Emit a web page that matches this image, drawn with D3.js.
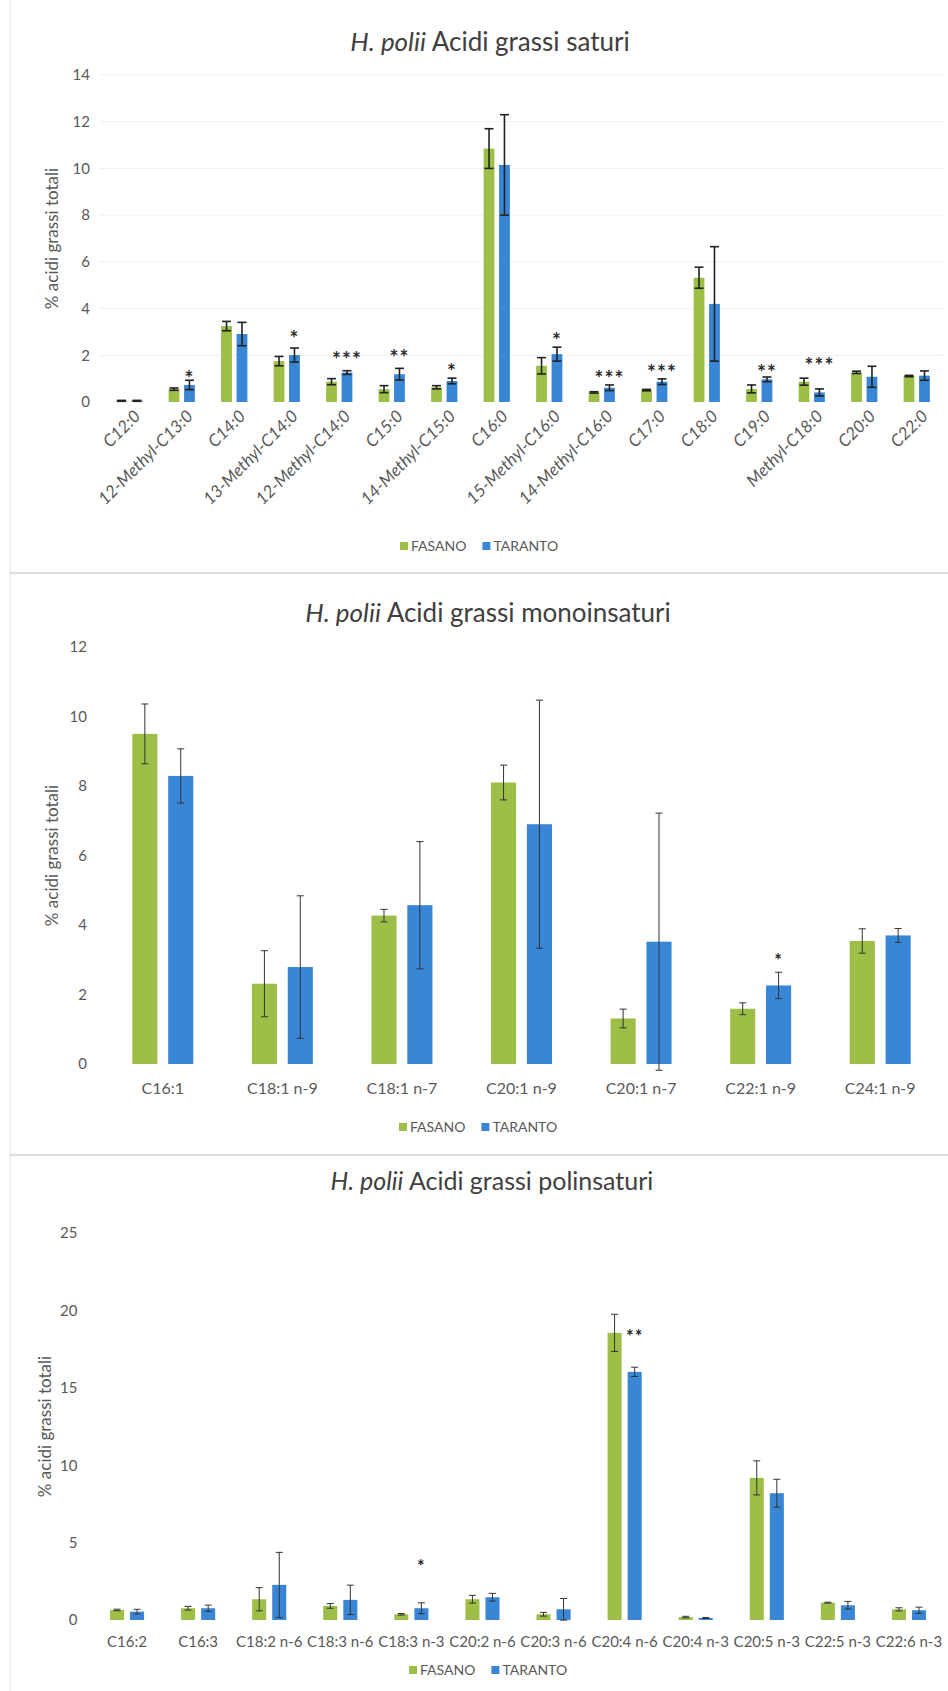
<!DOCTYPE html>
<html><head><meta charset="utf-8">
<script src="https://cdn.jsdelivr.net/npm/d3@7"></script>
<style>body{margin:0;background:#fff}svg{display:block}</style>
</head><body><svg id="c" width="948" height="1691"></svg>
<script>
// ---------- DATA ----------
const seriesNames = ["FASANO", "TARANTO"];

const satCategories = ["C12:0","12-Methyl-C13:0","C14:0","13-Methyl-C14:0","12-Methyl-C14:0","C15:0","14-Methyl-C15:0","C16:0","15-Methyl-C16:0","14-Methyl-C16:0","C17:0","C18:0","C19:0","Methyl-C18:0","C20:0","C22:0"];
const satFasano     = [0.05, 0.55, 3.25, 1.75, 0.87, 0.55, 0.63, 10.85, 1.55, 0.41, 0.51, 5.32, 0.56, 0.87, 1.27, 1.11];
const satFasanoErr  = [0.02, 0.05, 0.20, 0.20, 0.13, 0.15, 0.07, 0.85, 0.35, 0.03, 0.03, 0.45, 0.17, 0.15, 0.05, 0.03];
const satTaranto    = [0.05, 0.73, 2.91, 2.01, 1.26, 1.19, 0.90, 10.15, 2.05, 0.61, 0.87, 4.20, 0.97, 0.41, 1.08, 1.13];
const satTarantoErr = [0.02, 0.20, 0.50, 0.30, 0.08, 0.25, 0.12, 2.15, 0.30, 0.12, 0.12, 2.45, 0.10, 0.15, 0.45, 0.20];
const satTicks = [0, 2, 4, 6, 8, 10, 12, 14];
const satSig = [
  {cat:"12-Methyl-C13:0", label:"*",   at:1.24},
  {cat:"13-Methyl-C14:0", label:"*",   at:2.95},
  {cat:"12-Methyl-C14:0", label:"***", at:2.05},
  {cat:"C15:0",           label:"**",  at:2.11},
  {cat:"14-Methyl-C15:0", label:"*",   at:1.51},
  {cat:"15-Methyl-C16:0", label:"*",   at:2.87},
  {cat:"14-Methyl-C16:0", label:"***", at:1.24},
  {cat:"C17:0",           label:"***", at:1.46},
  {cat:"C19:0",           label:"**",  at:1.46},
  {cat:"Methyl-C18:0",    label:"***", at:1.76}
];

const monoCategories = ["C16:1","C18:1 n-9","C18:1 n-7","C20:1 n-9","C20:1 n-7","C22:1 n-9","C24:1 n-9"];
const monoFasano     = [9.50, 2.31, 4.27, 8.10, 1.31, 1.59, 3.54];
const monoFasanoErr  = [0.86, 0.95, 0.18, 0.50, 0.27, 0.17, 0.35];
const monoTaranto    = [8.29, 2.79, 4.57, 6.90, 3.52, 2.26, 3.70];
const monoTarantoErr = [0.78, 2.05, 1.83, 3.57, 3.70, 0.38, 0.20];
const monoTicks = [0, 2, 4, 6, 8, 10, 12];
const monoSig = [{cat:"C22:1 n-9", label:"*", at:3.1}];

const polyCategories = ["C16:2","C16:3","C18:2 n-6","C18:3 n-6","C18:3 n-3","C20:2 n-6","C20:3 n-6","C20:4 n-6","C20:4 n-3","C20:5 n-3","C22:5 n-3","C22:6 n-3"];
const polyFasano     = [0.65, 0.76, 1.34, 0.91, 0.37, 1.34, 0.37, 18.55, 0.19, 9.18, 1.12, 0.69];
const polyFasanoErr  = [0.05, 0.12, 0.75, 0.15, 0.05, 0.25, 0.12, 1.20, 0.05, 1.10, 0.03, 0.10];
const polyTaranto    = [0.54, 0.76, 2.27, 1.30, 0.76, 1.47, 0.69, 16.03, 0.13, 8.19, 0.95, 0.63];
const polyTarantoErr = [0.15, 0.20, 2.10, 0.95, 0.35, 0.25, 0.70, 0.30, 0.03, 0.90, 0.25, 0.20];
const polyTicks = [0, 5, 10, 15, 20, 25];
const polySig = [{cat:"C18:3 n-3", label:"*", at:3.71}, {cat:"C20:4 n-6", label:"**", at:18.6}];

// ---------- DRAW ----------
const FONT = 'Lato, "Liberation Sans", Arial, sans-serif';
const TXT = '#595959';
const COLORS = {FASANO:'#9dbf48', TARANTO:'#3a86d6'};
const svg = d3.select('#c');
svg.append('rect').attr('width',948).attr('height',1691).attr('fill','#fff');

// chart frames (faint Excel borders)
svg.append('line').attr('x1',10).attr('x2',10).attr('y1',0).attr('y2',1691).attr('stroke','#ececec').attr('stroke-width',1.5);
[573,1155].forEach(yy => svg.append('line').attr('x1',10).attr('x2',948).attr('y1',yy).attr('y2',yy)
  .attr('stroke','#d2d2d2').attr('stroke-width',1.5));

function drawChart(o){
  const g = svg.append('g');
  const rows = o.categories.map((c,i)=>({cat:c, FASANO:o.fas[i], FASANOe:o.fasE[i], TARANTO:o.tar[i], TARANTOe:o.tarE[i]}));
  const x = d3.scaleBand().domain(o.categories).range([o.left,o.right]);
  const bw = x.bandwidth();
  const x1 = d3.scaleBand().domain(seriesNames)
    .range([(1-o.group)/2*bw, (1+o.group)/2*bw]).paddingInner(o.inner);
  const y = d3.scaleLinear().domain([0,o.max]).range([o.bottom,o.top]);

  // title
  const t = g.append('text').attr('x',o.titleX).attr('y',o.titleY).attr('text-anchor','middle')
    .attr('font-family',FONT).attr('font-size',o.titleSize).attr('fill','#404040');
  t.append('tspan').attr('font-style','italic').text('H. polii');
  t.append('tspan').text(' ' + o.title);

  // gridlines
  if (o.grid){
    g.append('g').selectAll('line').data(o.ticks.slice(1)).join('line')
      .attr('x1',o.left-3).attr('x2',o.right).attr('y1',d=>y(d)).attr('y2',d=>y(d))
      .attr('stroke','#efefef').attr('stroke-width',1);
  }

  // y axis
  const ya = g.append('g').attr('transform',`translate(${o.left},0)`)
    .call(d3.axisLeft(y).tickValues(o.ticks).tickSize(0).tickPadding(o.tickPad));
  ya.select('.domain').remove();
  ya.selectAll('text').attr('font-family',FONT).attr('font-size',o.yTickSize).attr('fill',TXT);

  // y axis title
  g.append('text').attr('transform',`translate(${o.yTitleX},${(o.top+o.bottom)/2}) rotate(-90)`)
    .attr('text-anchor','middle').attr('dy','0.35em')
    .attr('font-family',FONT).attr('font-size',o.yTitleSize).attr('fill',TXT)
    .text('% acidi grassi totali');

  // x axis
  const xa = g.append('g').attr('transform',`translate(0,${o.bottom})`)
    .call(d3.axisBottom(x).tickSize(0).tickPadding(o.xPad));
  xa.select('.domain').remove();
  xa.selectAll('text').attr('font-family',FONT).attr('font-size',o.xTickSize).attr('fill',TXT);
  if (o.rotate){
    xa.selectAll('text').attr('text-anchor','end').attr('font-style','italic')
      .attr('dy','0.35em')
      .attr('transform',`translate(${o.rotDx},${o.rotDy}) rotate(-45)`).attr('y',0).attr('x',0);
  }

  // bars
  const groups = g.append('g').selectAll('g').data(rows).join('g')
    .attr('transform',d=>`translate(${x(d.cat)},0)`);
  groups.selectAll('rect').data(d=>seriesNames.map(s=>({s, v:d[s]}))).join('rect')
    .attr('x',d=>x1(d.s)).attr('width',x1.bandwidth())
    .attr('y',d=>y(d.v)).attr('height',d=>y(0)-y(d.v))
    .attr('fill',d=>COLORS[d.s]);

  // error bars
  const eb = groups.selectAll('g.eb').data(d=>seriesNames.map(s=>({s, v:d[s], e:d[s+'e']}))).join('g').attr('class','eb')
    .attr('transform',d=>`translate(${x1(d.s)+x1.bandwidth()/2},0)`);
  eb.append('line').attr('y1',d=>y(d.v-d.e)).attr('y2',d=>y(d.v+d.e)).attr('x1',0).attr('x2',0)
    .attr('stroke',o.errColor).attr('stroke-width',o.errW);
  [1,-1].forEach(sg=>{
    eb.append('line').attr('x1',-o.cap).attr('x2',o.cap)
      .attr('y1',d=>y(d.v+sg*d.e)).attr('y2',d=>y(d.v+sg*d.e))
      .attr('stroke',o.errColor).attr('stroke-width',o.errW);
  });

  // significance marks
  g.append('g').selectAll('text').data(o.sig).join('text')
    .attr('x',d=>x(d.cat)+x1('TARANTO')+x1.bandwidth()/2)
    .attr('y',d=>y(d.at)+o.starSize*0.6)
    .attr('text-anchor','middle').attr('font-family',FONT).attr('font-size',o.starSize)
    .attr('font-weight','bold')
    .attr('fill','#2a2a2a').attr('letter-spacing',1).text(d=>d.label);

  // legend
  const lg = g.append('g').attr('transform',`translate(${o.legX},${o.legY})`);
  let cx = 0;
  seriesNames.forEach((s,i)=>{
    lg.append('rect').attr('x',cx).attr('y',-4).attr('width',8).attr('height',8).attr('fill',COLORS[s]);
    const tt = lg.append('text').attr('x',cx+11).attr('y',0).attr('dy','0.35em')
      .attr('font-family',FONT).attr('font-size',o.legSize).attr('fill',TXT).text(s);
    cx += 11 + tt.node().getComputedTextLength() + 16;
  });
}

drawChart({categories:satCategories, fas:satFasano, fasE:satFasanoErr, tar:satTaranto, tarE:satTarantoErr,
  ticks:satTicks, sig:satSig, max:14, left:103, right:943, top:75, bottom:402,
  group:0.5, inner:0.3, grid:true, title:'Acidi grassi saturi', titleX:490, titleY:51, titleSize:26,
  tickPad:13, yTickSize:15, yTitleX:52, yTitleSize:17, xTickSize:17, xPad:0, rotate:true, rotDx:8, rotDy:11,
  errColor:'#222', errW:1.6, cap:4.5, starSize:21, legX:400, legY:546, legSize:14});

drawChart({categories:monoCategories, fas:monoFasano, fasE:monoFasanoErr, tar:monoTaranto, tarE:monoTarantoErr,
  ticks:monoTicks, sig:monoSig, max:12, left:103, right:940, top:647, bottom:1064,
  group:0.51, inner:0.3, grid:false, title:'Acidi grassi monoinsaturi', titleX:488, titleY:622, titleSize:26,
  tickPad:16, yTickSize:15, yTitleX:52, yTitleSize:17, xTickSize:16, xPad:19, rotate:false,
  errColor:'#333', errW:1, cap:3.5, starSize:18, legX:399, legY:1127, legSize:14});

drawChart({categories:polyCategories, fas:polyFasano, fasE:polyFasanoErr, tar:polyTaranto, tarE:polyTarantoErr,
  ticks:polyTicks, sig:polySig, max:25, left:91.5, right:944.5, top:1233, bottom:1620,
  group:0.48, inner:0.3, grid:false, title:'Acidi grassi polinsaturi', titleX:492, titleY:1190, titleSize:25,
  tickPad:14, yTickSize:15, yTitleX:45, yTitleSize:17, xTickSize:15, xPad:16, rotate:false,
  errColor:'#333', errW:1, cap:3.5, starSize:18, legX:409, legY:1670, legSize:14});
</script></body></html>
